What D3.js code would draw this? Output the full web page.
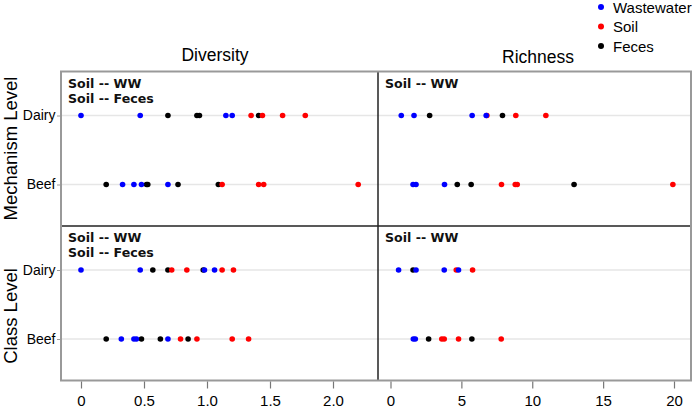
<!DOCTYPE html>
<html>
<head>
<meta charset="utf-8">
<script src="https://cdn.jsdelivr.net/npm/d3@7"></script>
<style>
  html, body { margin: 0; padding: 0; background: #fff; }
  svg { display: block; }
</style>
</head>
<body>
<svg id="chart" width="697" height="409"></svg>
<script>
// ---------------- data ----------------
const levels = ["Mechanism Level", "Class Level"];
const metrics = ["Diversity", "Richness"];
const rowsCat = ["Dairy", "Beef"];
const seriesNames = ["Wastewater", "Soil", "Feces"];
const seriesColors = ["#0000ff", "#ff0000", "#000000"];

const diversityTicks = [0, 0.5, 1.0, 1.5, 2.0];
const diversityTickLabels = ["0", "0.5", "1.0", "1.5", "2.0"];
const richnessTicks = [0, 5, 10, 15, 20];
const richnessTickLabels = ["0", "5", "10", "15", "20"];

// each array: [Dairy values, Beef values]
const mechDivWastewater = [[0.00, 0.47, 1.15, 1.20], [0.33, 0.42, 0.48, 0.69]];
const mechDivSoil       = [[1.35, 1.44, 1.60, 1.78], [1.12, 1.41, 1.45, 2.20]];
const mechDivFeces      = [[0.69, 0.92, 0.94, 1.41], [0.20, 0.52, 0.53, 0.77, 1.09]];

const mechRichWastewater = [[0.76, 1.66, 5.76, 6.75], [1.59, 1.80, 3.81]];
const mechRichSoil       = [[6.80, 8.84, 10.96], [7.83, 8.80, 8.94, 19.92]];
const mechRichFeces      = [[2.76, 7.90], [4.71, 5.69, 12.95]];

const classDivWastewater = [[0.00, 0.47, 0.98, 1.06], [0.32, 0.42, 0.44, 0.69]];
const classDivSoil       = [[0.72, 0.84, 1.12, 1.21], [0.79, 0.92, 1.20, 1.33]];
const classDivFeces      = [[0.57, 0.69, 0.97], [0.20, 0.48, 0.63, 0.85]];

const classRichWastewater = [[0.57, 1.80, 3.79, 4.80], [1.61, 1.75]];
const classRichSoil       = [[4.64, 5.79], [3.62, 3.79, 4.80, 7.81]];
const classRichFeces      = [[1.59], [2.69, 5.74]];

const annotationsMechDiv = ["Soil -- WW", "Soil -- Feces"];
const annotationsMechRich = ["Soil -- WW"];
const annotationsClassDiv = ["Soil -- WW", "Soil -- Feces"];
const annotationsClassRich = ["Soil -- WW"];

// panels table built from arrays
const panels = [
  { level: 0, metric: 0, series: [mechDivWastewater, mechDivSoil, mechDivFeces], notes: annotationsMechDiv },
  { level: 0, metric: 1, series: [mechRichWastewater, mechRichSoil, mechRichFeces], notes: annotationsMechRich },
  { level: 1, metric: 0, series: [classDivWastewater, classDivSoil, classDivFeces], notes: annotationsClassDiv },
  { level: 1, metric: 1, series: [classRichWastewater, classRichSoil, classRichFeces], notes: annotationsClassRich }
];

// ---------------- layout ----------------
const svg = d3.select("#chart");
const colX = [[61, 378], [378, 691]];
const rowY = [[71.5, 226], [226, 380.5]];

const xScales = [
  d3.scaleLinear().domain([0, 2]).range([81, 333]),
  d3.scaleLinear().domain([0, 20]).range([390.5, 674])
];
const yInner = d3.scalePoint().domain(rowsCat).range([44, 113]);

const sansFont = "'Liberation Sans', Arial, Helvetica, sans-serif";
const boldFont = "'DejaVu Sans', Verdana, sans-serif";

// gridlines, points, annotations
panels.forEach(p => {
  const [x0, x1] = colX[p.metric];
  const [y0, y1] = rowY[p.level];
  const g = svg.append("g");
  const xs = xScales[p.metric];

  rowsCat.forEach(r => {
    g.append("line")
      .attr("x1", x0).attr("x2", x1)
      .attr("y1", y0 + yInner(r)).attr("y2", y0 + yInner(r))
      .attr("stroke", "#e6e6e6").attr("stroke-width", 1.3);
  });

  // draw order: Feces (bottom), Soil, Wastewater (top)
  [2, 1, 0].forEach(si => {
    const arr = p.series[si];
    rowsCat.forEach((r, ri) => {
      g.selectAll(null)
        .data(arr[ri])
        .enter().append("circle")
        .attr("cx", d => xs(d))
        .attr("cy", y0 + yInner(r))
        .attr("r", 2.8)
        .attr("fill", seriesColors[si]);
    });
  });

  p.notes.forEach((t, i) => {
    g.append("text")
      .attr("x", x0 + 7)
      .attr("y", y0 + 16 + i * 15)
      .attr("font-family", boldFont)
      .attr("font-weight", "bold")
      .attr("font-size", "12.6px")
      .attr("fill", "#111")
      .text(t);
  });
});

// frame: inner dividers
svg.append("line").attr("x1", 378).attr("x2", 378).attr("y1", 71.5).attr("y2", 380.5)
  .attr("stroke", "#222").attr("stroke-width", 1.5);
svg.append("line").attr("x1", 61).attr("x2", 691).attr("y1", 226).attr("y2", 226)
  .attr("stroke", "#222").attr("stroke-width", 1.5);
// outer border
svg.append("rect").attr("x", 61).attr("y", 71.5).attr("width", 630).attr("height", 309)
  .attr("fill", "none").attr("stroke", "#999").attr("stroke-width", 2);

// x axes
[[diversityTicks, diversityTickLabels], [richnessTicks, richnessTickLabels]].forEach(([tv, tl], i) => {
  const ax = d3.axisBottom(xScales[i])
    .tickValues(tv)
    .tickFormat((d, j) => tl[j])
    .tickSize(7)
    .tickPadding(6.5);
  const ag = svg.append("g").attr("transform", "translate(0,381.5)").call(ax);
  ag.select(".domain").remove();
  ag.selectAll(".tick line").attr("stroke", "#777").attr("stroke-width", 1.2);
  ag.selectAll(".tick text").attr("font-family", sansFont).attr("font-size", "15px").attr("fill", "#000");
});

// y axes (row labels)
rowY.forEach(([y0]) => {
  const ys = d3.scalePoint().domain(rowsCat).range([y0 + 44, y0 + 113]);
  const ay = d3.axisLeft(ys).tickSize(3).tickPadding(1.5);
  const ag = svg.append("g").attr("transform", "translate(60,0)").call(ay);
  ag.select(".domain").remove();
  ag.selectAll(".tick line").attr("stroke", "#999");
  ag.selectAll(".tick text").attr("font-family", sansFont).attr("font-size", "14px").attr("fill", "#000");
});

// strip titles
const titlePos = [[215, 61], [538, 63]];
metrics.forEach((m, i) => {
  svg.append("text")
    .attr("x", titlePos[i][0]).attr("y", titlePos[i][1])
    .attr("text-anchor", "middle")
    .attr("font-family", sansFont).attr("font-size", "17.5px")
    .attr("fill", "#000")
    .text(m);
});

// level labels (rotated)
const levelCenters = [148.5, 316];
levels.forEach((l, i) => {
  svg.append("text")
    .attr("transform", `translate(17,${levelCenters[i]}) rotate(-90)`)
    .attr("text-anchor", "middle")
    .attr("font-family", sansFont).attr("font-size", "18.5px")
    .attr("fill", "#000")
    .text(l);
});

// legend
const legY = [7, 26.5, 46];
seriesNames.forEach((s, i) => {
  svg.append("circle").attr("cx", 601).attr("cy", legY[i]).attr("r", 3).attr("fill", seriesColors[i]);
  svg.append("text").attr("x", 613).attr("y", legY[i] + 5.5)
    .attr("font-family", sansFont).attr("font-size", "15px").attr("fill", "#000")
    .text(s);
});
</script>
</body>
</html>
